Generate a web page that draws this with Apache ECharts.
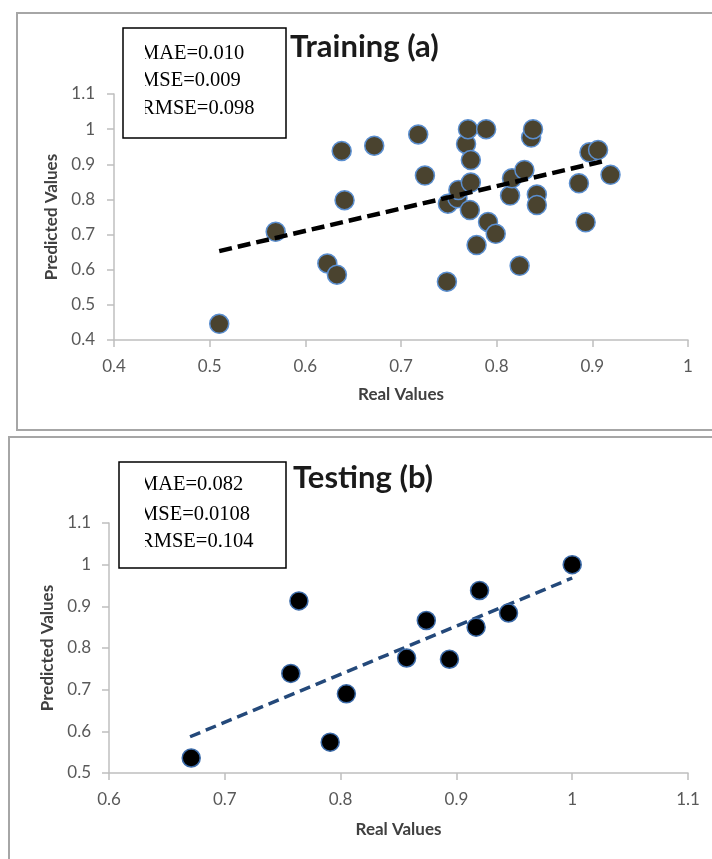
<!DOCTYPE html>
<html>
<head>
<meta charset="utf-8">
<script src="https://cdn.jsdelivr.net/npm/echarts@6/dist/echarts.min.js"></script>
<style>
  html, body { margin: 0; padding: 0; background: #fff; }
  #chart { width: 712px; height: 859px; }
</style>
</head>
<body>
<div id="chart"></div>
<script>
// training (a): real vs predicted
var trainReal = [0.51, 0.569, 0.623, 0.633, 0.638, 0.641, 0.672, 0.718, 0.725, 0.748, 0.749,
  0.759, 0.76, 0.768, 0.77, 0.772, 0.773, 0.773, 0.779, 0.789, 0.791, 0.799, 0.814, 0.816,
  0.824, 0.829, 0.836, 0.838, 0.842, 0.842, 0.886, 0.893, 0.897, 0.906, 0.919];
var trainPred = [0.446, 0.708, 0.618, 0.586, 0.938, 0.798, 0.953, 0.985, 0.868, 0.566, 0.788,
  0.803, 0.827, 0.958, 1.0, 0.77, 0.912, 0.848, 0.67, 1.0, 0.736, 0.702, 0.811, 0.86,
  0.611, 0.884, 0.976, 1.0, 0.814, 0.784, 0.846, 0.735, 0.934, 0.941, 0.87];
var trainTrendX = [0.51, 0.91];
var trainTrendY = [0.653, 0.908];
var trainStats = ["MAE=0.010", "MSE=0.009", "RMSE=0.098"];

// testing (b)
var testReal = [0.671, 0.757, 0.764, 0.791, 0.805, 0.857, 0.874, 0.894, 0.917, 0.92, 0.945, 1.0];
var testPred = [0.536, 0.739, 0.913, 0.574, 0.69, 0.776, 0.866, 0.773, 0.85, 0.938, 0.884, 1.0];
var testTrendX = [0.67, 1.0];
var testTrendY = [0.587, 0.968];
var testStats = ["MAE=0.082", "MSE=0.0108", "RMSE=0.104"];

function pairs(xs, ys) {
  return xs.map(function (x, i) { return [x, ys[i]]; });
}

var labelFont = { fontFamily: "Lato", fontSize: 17, color: "#595959" };
var nameFont = { fontFamily: "Lato", fontSize: 17, fontWeight: "bold", color: "#404040" };
var axisGray = "#bfbfbf";

function valueAxis(idx, min, max, name, gap, margin) {
  return {
    type: "value",
    gridIndex: idx,
    min: min,
    max: max,
    interval: 0.1,
    name: name,
    nameLocation: "middle",
    nameGap: gap,
    nameTextStyle: nameFont,
    axisLine: { show: true, lineStyle: { color: axisGray, width: 1.5 } },
    axisTick: { show: true, length: 7, lineStyle: { color: axisGray, width: 1.5 } },
    axisLabel: Object.assign({ margin: margin }, labelFont),
    splitLine: { show: false }
  };
}

// text box with the left edge of the text cut off, as in the source figure
function statBox(x, y, w, h, lines, textX, clipX, ys) {
  var els = [];
  lines.forEach(function (t, i) {
    els.push({
      type: "text", left: textX, top: ys[i] - 10, z: 10,
      style: { text: t, fontFamily: "Liberation Serif", fontSize: 20.5, fill: "#000" }
    });
  });
  els.push({ type: "rect", shape: { x: x, y: y + 1, width: clipX - x, height: h - 2 }, z: 11,
    style: { fill: "#fff" } });
  els.push({ type: "rect", shape: { x: x, y: y, width: w, height: h }, z: 12,
    style: { fill: "none", stroke: "#000", lineWidth: 1.5 } });
  return els;
}

var titleStyle = { fontFamily: "Lato", fontSize: 31, fontWeight: "bold", color: "#1a1a1a" };

var myChart = echarts.init(document.getElementById("chart"));
myChart.setOption({
  animation: false,
  backgroundColor: "#fff",
  title: [
    { text: "Training (a)", left: 290, top: 31, padding: 0, textStyle: titleStyle },
    { text: "Testing (b)", left: 293, top: 462, padding: 0, textStyle: titleStyle }
  ],
  grid: [
    { left: 114, top: 94, width: 574, height: 246 },
    { left: 109, top: 523, width: 579, height: 250 }
  ],
  xAxis: [
    valueAxis(0, 0.4, 1, "Real Values", 46, 18),
    valueAxis(1, 0.6, 1.1, "Real Values", 48, 18)
  ],
  yAxis: [
    valueAxis(0, 0.4, 1.1, "Predicted Values", 50, 19),
    valueAxis(1, 0.5, 1.1, "Predicted Values", 52, 18)
  ],
  series: [
    {
      type: "line", xAxisIndex: 0, yAxisIndex: 0,
      data: pairs(trainTrendX, trainTrendY),
      symbol: "none", z: 3,
      lineStyle: { color: "#000", width: 4.5, type: [13, 6] }
    },
    {
      type: "scatter", xAxisIndex: 0, yAxisIndex: 0,
      data: pairs(trainReal, trainPred),
      symbolSize: 19, z: 2,
      itemStyle: { color: "#4a432f", borderColor: "#5b8fd0", borderWidth: 1.5, opacity: 1 }
    },
    {
      type: "line", xAxisIndex: 1, yAxisIndex: 1,
      data: pairs(testTrendX, testTrendY),
      symbol: "none", z: 1,
      lineStyle: { color: "#24497a", width: 3.5, type: [11, 6] }
    },
    {
      type: "scatter", xAxisIndex: 1, yAxisIndex: 1,
      data: pairs(testReal, testPred),
      symbolSize: 18, z: 2,
      itemStyle: { color: "#000", borderColor: "#3b6aa8", borderWidth: 1.5, opacity: 1 }
    }
  ],
  graphic: [
    // panel frames
    { type: "rect", shape: { x: 17, y: 13, width: 710, height: 417 }, silent: true, z: 0,
      style: { fill: "none", stroke: "#a6a6a6", lineWidth: 2 } },
    { type: "rect", shape: { x: 9, y: 437, width: 720, height: 440 }, silent: true, z: 0,
      style: { fill: "none", stroke: "#a6a6a6", lineWidth: 2 } }
  ].concat(
    statBox(123, 28, 163, 110, trainStats, 141, 145, [53, 80, 108]),
    statBox(119, 462, 167, 106, testStats, 140, 145, [484, 514, 541])
  )
});
</script>
</body>
</html>
